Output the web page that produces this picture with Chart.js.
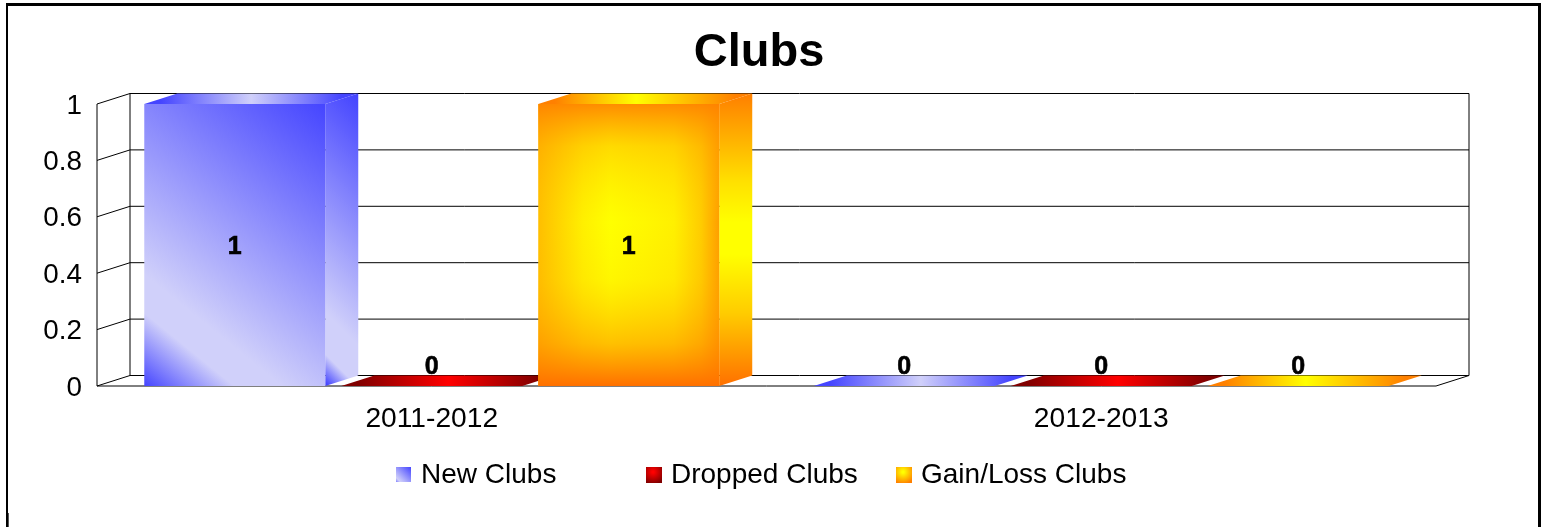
<!DOCTYPE html>
<html>
<head>
<meta charset="utf-8">
<title>Clubs</title>
<script src="https://cdn.jsdelivr.net/npm/chart.js@4/dist/chart.umd.min.js"></script>
<style>
  html, body { margin: 0; padding: 0; background: #fff; overflow: hidden; }
  #frame { position: absolute; left: 6px; top: 3px; width: 1530px; height: 524px; border: solid #000; border-width: 3px 3px 0 2px; }
  #nick { position: absolute; left: 8px; top: 513px; width: 1px; height: 14px; background: #555; }
  canvas { position: absolute; left: 0; top: 0; }
</style>
</head>
<body>
<div id="frame"></div>
<div id="nick"></div>
<canvas id="clubsChart" width="1518" height="527"></canvas>
<script>
const categories = ["2011-2012", "2012-2013"];
const seriesNames = ["New Clubs", "Dropped Clubs", "Gain/Loss Clubs"];
const newClubs = [1, 0];
const droppedClubs = [0, 0];
const gainLossClubs = [1, 0];

const depthX = 33;
const depthY = 10.5;

const blueDiag = [[0, "#4545ff"], [0.74, "#d0d0fa"], [0.83, "#d0d0fa"], [1, "#4545ff"]];
const blueSide = [[0, "#4545ff"], [0.78, "#d0d0fa"], [0.91, "#d0d0fa"], [1, "#4545ff"]];
const blueTop = [[0, "#4545ff"], [0.5, "#d0d0fa"], [1, "#4545ff"]];
const redDiag = [[0, "#800000"], [0.5, "#ff0000"], [1, "#800000"]];
const redTop = [[0, "#800000"], [0.5, "#ff0000"], [1, "#800000"]];
const orangeFront = [[0, "#ffbe00"], [0.25, "#fff000"], [0.4, "#ffff00"], [0.75, "#fff000"], [0.9, "#ffcc00"], [1, "#ff9e00"]];
const orangeFade = [[0, "rgba(255,128,0,0.9)"], [0.15, "rgba(255,150,0,0.35)"], [0.42, "rgba(255,200,0,0)"],
  [0.62, "rgba(255,170,0,0.1)"], [0.85, "rgba(255,130,0,0.5)"], [1, "rgba(255,112,0,1)"]];
const orangeSide = [[0, "#ff7f00"], [0.3, "#ffe000"], [0.44, "#ffff00"], [0.55, "#ffff00"], [0.75, "#ffcc00"], [1, "#ff7000"]];
const orangeTop = [[0, "#ff8000"], [0.45, "#ffff00"], [1, "#ff8000"]];

function linear(ctx, x0, y0, x1, y1, stops) {
  const g = ctx.createLinearGradient(x0, y0, x1, y1);
  stops.forEach(s => g.addColorStop(s[0], s[1]));
  return g;
}

function diagonal(ctx, l, t, w, h, nx, ny, stops) {
  const half = (w * nx + h * ny) / 2;
  const cx = l + w / 2;
  const cy = t + h / 2;
  return linear(ctx, cx + nx * half, cy - ny * half, cx - nx * half, cy + ny * half, stops);
}

function frontFill(ctx, i, l, t, w, h) {
  if (i === 2) return linear(ctx, l, 0, l + w, 0, orangeFront);
  return diagonal(ctx, l, t, w, h, 0.63, 0.776, i === 0 ? blueDiag : redDiag);
}

function sideFill(ctx, i, l, t, h) {
  if (i === 2) return linear(ctx, 0, t - depthY, 0, t + h, orangeSide);
  return diagonal(ctx, l, t - depthY, depthX, h + depthY, 0.7, 0.7, i === 0 ? blueSide : redDiag);
}

function topFill(ctx, i, l, w) {
  const stops = [blueTop, redTop, orangeTop][i];
  return linear(ctx, l + depthX / 2, 0, l + w + depthX / 2, 0, stops);
}

function polygon(ctx, pts, fill) {
  ctx.beginPath();
  pts.forEach((p, n) => n ? ctx.lineTo(p[0], p[1]) : ctx.moveTo(p[0], p[1]));
  ctx.closePath();
  ctx.fillStyle = fill;
  ctx.fill();
}

function eachBar(chart, fn) {
  chart.data.datasets.forEach((ds, i) => {
    chart.getDatasetMeta(i).data.forEach((bar, j) => {
      fn(bar, i, j, bar.x - bar.width / 2, bar.y, bar.width, bar.base - bar.y);
    });
  });
}

// title centres on the whole canvas, y labels sit a bit lower than Chart.js puts them
const nudge = {
  id: "nudge",
  afterLayout(chart) {
    chart.titleBlock.right += 82;
    chart.scales.y.getLabelItems().forEach(item => { item.options.translation[1] += 2; });
  }
};

const walls = {
  id: "walls",
  beforeDatasetsDraw(chart) {
    const ctx = chart.ctx;
    const { left, right } = chart.chartArea;
    const y = chart.scales.y;
    ctx.save();
    ctx.strokeStyle = "#000";
    ctx.lineWidth = 1;
    ctx.beginPath();
    y.ticks.forEach(t => {
      const py = y.getPixelForValue(t.value);
      ctx.moveTo(left, py);
      ctx.lineTo(left + depthX, py - depthY);
      ctx.lineTo(right + depthX, py - depthY);
    });
    ctx.moveTo(left, y.getPixelForValue(1));
    ctx.lineTo(left, y.getPixelForValue(0));
    ctx.lineTo(right, y.getPixelForValue(0));
    ctx.lineTo(right + depthX, y.getPixelForValue(0) - depthY);
    ctx.moveTo(left + depthX, y.getPixelForValue(1) - depthY);
    ctx.lineTo(left + depthX, y.getPixelForValue(0) - depthY);
    ctx.moveTo(right + depthX, y.getPixelForValue(1) - depthY);
    ctx.lineTo(right + depthX, y.getPixelForValue(0) - depthY);
    ctx.stroke();

    // side and top faces go under the fronts the library draws next
    eachBar(chart, (bar, i, j, l, t, w, h) => {
      bar.options.backgroundColor = frontFill(ctx, i, l, t, w, h || 1);
      if (h > 0) {
        polygon(ctx, [[l + w, t], [l + w + depthX, t - depthY], [l + w + depthX, t + h - depthY], [l + w, t + h]],
          sideFill(ctx, i, l + w, t, h));
      }
      polygon(ctx, [[l, t], [l + w, t], [l + w + depthX, t - depthY], [l + depthX, t - depthY]],
        topFill(ctx, i, l, w));
    });
    ctx.restore();
  }
};

const valueLabels = {
  id: "valueLabels",
  afterDatasetsDraw(chart) {
    const ctx = chart.ctx;
    ctx.save();
    // the orange front also fades to orange at top and bottom
    eachBar(chart, (bar, i, j, l, t, w, h) => {
      if (i === 2 && h > 0) {
        ctx.fillStyle = linear(ctx, 0, t, 0, t + h, orangeFade);
        ctx.fillRect(l, t, w, h);
      }
    });
    ctx.font = 'bold 25px "Liberation Sans"';
    ctx.textAlign = "center";
    ctx.textBaseline = "middle";
    ctx.fillStyle = "#000";
    ctx.strokeStyle = "#000";
    ctx.lineWidth = 0.6;
    eachBar(chart, (bar, i, j, l, t, w, h) => {
      const text = String(chart.data.datasets[i].data[j]);
      const y = h > 0 ? t + h / 2 + 2 : bar.base - 19;
      ctx.fillText(text, bar.x, y);
      ctx.strokeText(text, bar.x, y);
    });
    ctx.restore();
  }
};

const spacedLegend = {
  id: "spacedLegend",
  afterDraw(chart) {
    const ctx = chart.ctx;
    ctx.save();
    ctx.font = '28px "Liberation Sans"';
    ctx.textBaseline = "middle";
    chart.data.datasets.forEach((ds, i) => {
      const x = 396 + 250 * i;
      const y = 467;
      const size = i === 0 ? 15 : 16;
      if (i === 0) {
        ctx.fillStyle = linear(ctx, x + size, y, x, y + size, [[0, "#4545ff"], [0.85, "#d0d0fa"], [1, "#8080ff"]]);
      } else {
        const g = ctx.createRadialGradient(x + 7, y + 5, 1, x + 7, y + 5, 12);
        g.addColorStop(0, i === 1 ? "#ff0000" : "#ffff00");
        g.addColorStop(1, i === 1 ? "#800000" : "#ff8000");
        ctx.fillStyle = g;
      }
      ctx.fillRect(x, y, size, size);
      ctx.fillStyle = "#000";
      ctx.fillText(ds.label, x + 25, y + 8.5);
    });
    ctx.restore();
  }
};

Chart.defaults.font.family = '"Liberation Sans"';
Chart.defaults.color = "#000";

new Chart(document.getElementById("clubsChart"), {
  type: "bar",
  data: {
    labels: categories,
    datasets: [
      { label: seriesNames[0], data: newClubs, backgroundColor: () => "#4545ff" },
      { label: seriesNames[1], data: droppedClubs, backgroundColor: () => "#ff0000" },
      { label: seriesNames[2], data: gainLossClubs, backgroundColor: () => "#ffff00" }
    ]
  },
  options: {
    responsive: false,
    animation: false,
    layout: { padding: { left: 0, right: 82, top: 0, bottom: 0 } },
    datasets: { bar: { categoryPercentage: 0.8827, barPercentage: 0.9188, borderWidth: 0 } },
    plugins: {
      legend: { display: false },
      tooltip: { enabled: false },
      title: {
        display: true,
        text: "Clubs",
        color: "#000",
        font: { size: 47, weight: "bold" },
        padding: { top: 25, bottom: 22.6 }
      }
    },
    scales: {
      x: {
        grid: { display: false, drawTicks: false },
        border: { display: false },
        ticks: { font: { size: 28.2 }, padding: 16, maxRotation: 0, autoSkip: false },
        afterFit: scale => { scale.height = 141; }
      },
      y: {
        min: 0,
        max: 1,
        grid: { display: false, drawTicks: false },
        border: { display: false },
        ticks: {
          stepSize: 0.2,
          font: { size: 27.8 },
          padding: 15,
          callback: value => String(Number(value.toFixed(1)))
        },
        afterFit: scale => { scale.width = 97; }
      }
    }
  },
  plugins: [nudge, walls, valueLabels, spacedLegend]
});
</script>
</body>
</html>
